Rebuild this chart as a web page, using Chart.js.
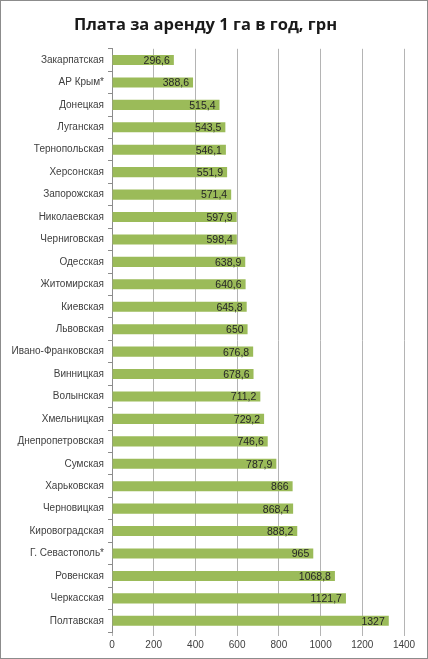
<!DOCTYPE html>
<html><head><meta charset="utf-8">
<script src="https://cdn.jsdelivr.net/npm/chart.js@4"></script>
<style>
html,body{margin:0;padding:0;background:#fff;}
#wrap{width:426px;height:657px;border:1px solid #8c8c8c;position:relative;}
canvas{display:block;}
</style></head><body>
<div id="wrap"><canvas id="c" width="426" height="657"></canvas></div>
<script>
const categories = ["Закарпатская","АР Крым*","Донецкая","Луганская","Тернопольская","Херсонская","Запорожская","Николаевская","Черниговская","Одесская","Житомирская","Киевская","Львовская","Ивано-Франковская","Винницкая","Волынская","Хмельницкая","Днепропетровская","Сумская","Харьковская","Черновицкая","Кировоградская","Г. Севастополь*","Ровенская","Черкасская","Полтавская"];
const values = [296.6,388.6,515.4,543.5,546.1,551.9,571.4,597.9,598.4,638.9,640.6,645.8,650,676.8,678.6,711.2,729.2,746.6,787.9,866,868.4,888.2,965,1068.8,1121.7,1327];
const xTicks = [0,200,400,600,800,1000,1200,1400];
const titleText = "Плата за аренду 1 га в год, грн";
const FONT = "'Liberation Sans', Arial, sans-serif";

const labelPlugin = {
  id:'barLabels',
  afterDatasetsDraw(chart){
    const ctx = chart.ctx;
    const meta = chart.getDatasetMeta(0);
    ctx.save();
    ctx.font = "10.5px " + FONT;
    ctx.fillStyle = "#262626";
    ctx.textAlign = "right";
    ctx.textBaseline = "middle";
    meta.data.forEach((bar,i)=>{
      const t = String(values[i]).replace('.',',');
      ctx.fillText(t, bar.x - 4, bar.y + 1);
    });
    ctx.restore();
  }
};

new Chart(document.getElementById('c'),{
  type:'bar',
  data:{labels:categories,datasets:[{data:values,backgroundColor:'#9bbb59',borderWidth:0,barPercentage:0.45,categoryPercentage:1}]},
  options:{
    indexAxis:'y',
    responsive:false,
    animation:false,
    devicePixelRatio:1,
    layout:{padding:{left:6,right:23,top:10,bottom:4}},
    plugins:{
      legend:{display:false},
      tooltip:{enabled:false},
      title:{display:true,text:titleText,color:'#1a1a1a',font:{family:"'Open Sans', sans-serif",size:16.5,weight:'bold'},padding:{top:4,bottom:14}}
    },
    scales:{
      x:{
        min:0,max:1400,
        afterBuildTicks(s){ s.ticks = xTicks.map(v=>({value:v})); },
        grid:{color:'#b4b4b4',lineWidth:1,drawTicks:true,tickLength:4,tickColor:'#b4b4b4'},
        border:{display:false},
        ticks:{color:'#404040',font:{family:FONT,size:10},padding:3,maxRotation:0,callback:(v)=>String(v)}
      },
      y:{
        afterFit(s){ s.width = 105; },
        grid:{display:true,drawOnChartArea:false,offset:true,drawTicks:true,tickLength:4,tickColor:'#8c8c8c'},
        border:{display:true,color:'#8c8c8c'},
        ticks:{color:'#404040',font:{family:FONT,size:10},padding:4,autoSkip:false}
      }
    }
  },
  plugins:[labelPlugin]
});
</script>
</body></html>
